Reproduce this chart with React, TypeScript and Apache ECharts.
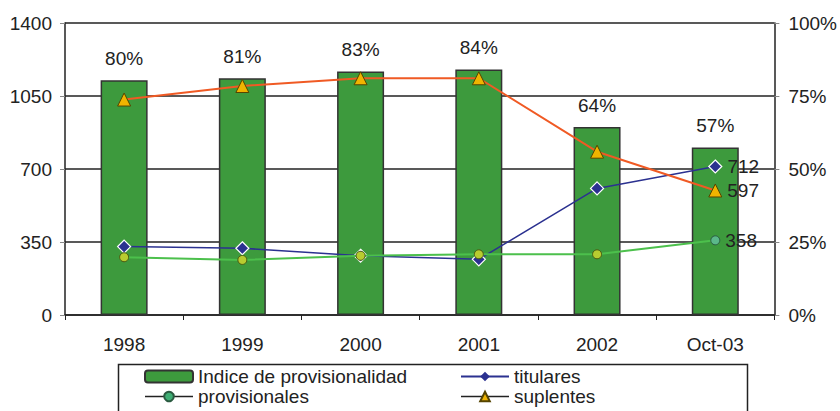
import React, { useEffect, useRef } from "react";
import * as echarts from "echarts";

const categories = ["1998", "1999", "2000", "2001", "2002", "Oct-03"];
const indice = [80.4, 81.1, 83.4, 84.1, 64.4, 57.4];
const titulares = [328, 320, 284, 267, 607, 712];
const provisionales = [277, 264, 284, 291, 291, 358];
const suplentes = [1033, 1098, 1135, 1135, 783, 597];
const leftTicks = { min: 0, max: 1400, interval: 350 };
const rightTicks = { min: 0, max: 100, interval: 25 };

const FONT = "Liberation Sans, Arial, sans-serif";
const TXT = "#222";

export default function App() {
  const ref = useRef<HTMLDivElement>(null);
  useEffect(() => {
    if (!ref.current) return;
    const chart = echarts.init(ref.current, undefined, { renderer: "svg" });
    const last = categories.length - 1;
    const lastLabel = (color: string) => ({
      show: true,
      position: "right",
      distance: 5,
      fontSize: 19,
      fontFamily: FONT,
      color,
    });
    const legendBase = {
      orient: "vertical",
      top: 367,
      padding: 0,
      itemWidth: 48,
      itemHeight: 12,
      itemGap: 1,
      textStyle: { fontSize: 19, lineHeight: 19, color: TXT, fontFamily: FONT },
    };
    const option: any = {
      animation: false,
      backgroundColor: "#fff",
      textStyle: { fontFamily: FONT },
      grid: { left: 65, right: 63, top: 23, bottom: 96 },
      xAxis: {
        type: "category",
        data: categories,
        axisLine: { show: true, lineStyle: { color: "#222", width: 1.5 } },
        axisTick: { show: true, length: 5, lineStyle: { color: "#222", width: 1 } },
        axisLabel: { fontSize: 19, color: TXT, margin: 20, fontFamily: FONT },
      },
      yAxis: [
        {
          type: "value",
          ...leftTicks,
          position: "left",
          axisLine: { show: true, lineStyle: { color: "#222", width: 1.5 } },
          axisTick: { show: true, length: 5, lineStyle: { color: "#888" } },
          axisLabel: {
            fontSize: 19,
            color: TXT,
            margin: 13,
            fontFamily: FONT,
            formatter: (v: number) => String(v),
          },
          splitLine: { show: true, lineStyle: { color: "#222", width: 1.5 } },
        },
        {
          type: "value",
          ...rightTicks,
          position: "right",
          axisLine: { show: true, lineStyle: { color: "#222", width: 1.5 } },
          axisTick: { show: true, length: 5, lineStyle: { color: "#888" } },
          axisLabel: { fontSize: 19, color: TXT, margin: 14, fontFamily: FONT, formatter: "{value}%" },
          splitLine: { show: false },
        },
      ],
      legend: [
        {
          ...legendBase,
          left: 144,
          data: [
            { name: "Indice de provisionalidad" },
            { name: "provisionales", lineStyle: { color: "#222", width: 1.5 } },
          ],
        },
        {
          ...legendBase,
          left: 460,
          data: [
            { name: "titulares", itemStyle: { borderWidth: 0 } },
            { name: "suplentes", lineStyle: { color: "#222", width: 1.5 } },
          ],
        },
      ],
      graphic: [
        {
          type: "rect",
          left: 116,
          top: 362,
          shape: { x: 0, y: 0, width: 629, height: 70 },
          style: { fill: "none", stroke: "#222", lineWidth: 1.5 },
          silent: true,
        },
      ],
      series: [
        {
          name: "Indice de provisionalidad",
          type: "bar",
          yAxisIndex: 1,
          data: indice,
          barWidth: 47,
          itemStyle: { color: "#3d9a3d", borderColor: "#333", borderWidth: 1.5 },
          label: {
            show: true,
            position: "top",
            distance: 12,
            fontSize: 19,
            color: TXT,
            fontFamily: FONT,
            formatter: (p: any) => Math.round(p.value) + "%",
          },
          z: 1,
        },
        {
          name: "titulares",
          type: "line",
          yAxisIndex: 0,
          symbol: "diamond",
          symbolSize: 13,
          lineStyle: { color: "#2b3190", width: 1.5 },
          itemStyle: { color: "#2b3190", borderColor: "#fff", borderWidth: 1.2 },
          data: titulares.map((v, i) => (i === last ? { value: v, label: lastLabel(TXT) } : v)),
          z: 3,
        },
        {
          name: "provisionales",
          type: "line",
          yAxisIndex: 0,
          symbol: "circle",
          symbolSize: 9,
          lineStyle: { color: "#4cc04c", width: 2 },
          itemStyle: { color: "#3fae74", borderColor: "#2a5a40", borderWidth: 1 },
          data: provisionales.map((v, i) =>
            i === last
              ? { value: v, label: lastLabel(TXT), itemStyle: { color: "#5bb88a", borderColor: "#2a5a40" } }
              : { value: v, itemStyle: { color: "#b8cc30", borderColor: "#4a5a10" } }
          ),
          z: 4,
        },
        {
          name: "suplentes",
          type: "line",
          yAxisIndex: 0,
          symbol: "triangle",
          symbolSize: 13,
          lineStyle: { color: "#f05a24", width: 2 },
          itemStyle: { color: "#f0b400", borderColor: "#554400", borderWidth: 1 },
          data: suplentes.map((v, i) => (i === last ? { value: v, label: lastLabel(TXT) } : v)),
          z: 5,
        },
      ],
    };
    chart.setOption(option);
    return () => chart.dispose();
  }, []);
  return (
    <div
      ref={ref}
      style={{ position: "absolute", left: 0, top: 0, width: 840, height: 411, background: "#fff" }}
    />
  );
}
